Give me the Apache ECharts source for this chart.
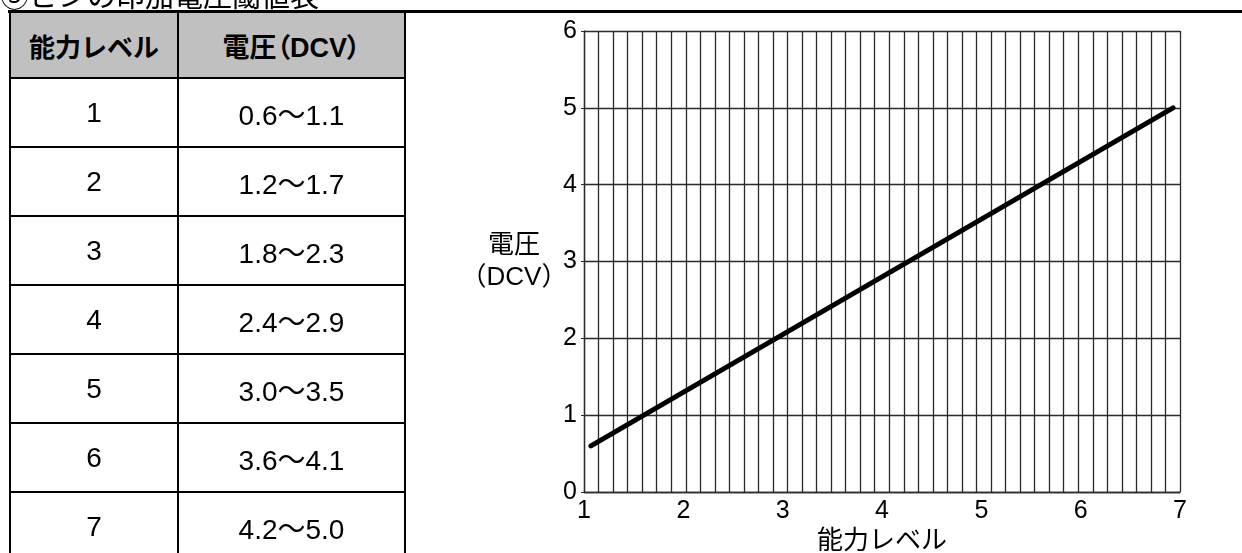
<!DOCTYPE html>
<html>
<head>
<meta charset="utf-8">
<script src="https://cdn.jsdelivr.net/npm/echarts@6/dist/echarts.min.js"></script>
<style>
  html, body { margin: 0; padding: 0; background: #fff; overflow: hidden; }
  #wrap { position: relative; width: 1242px; height: 553px; overflow: hidden; }
  #chart { position: absolute; left: 0; top: 0; width: 1242px; height: 553px; }
  .ln { position: absolute; background: #000; }
  .cell { position: absolute; display: flex; align-items: center; justify-content: center;
          font-family: "Liberation Sans", "Noto Sans CJK JP", sans-serif; color: #000; white-space: nowrap; }
  .hdr { background: #c0c0c0; font-weight: bold; font-size: 26px; }
  .hdr.palt { font-size: 27px; font-feature-settings: "palt" 1; }
  .body { font-size: 28px; padding-top: 1px; box-sizing: border-box; }
  #title { position: absolute; left: 0; top: -20px; font-size: 29px; line-height: 29px;
           font-family: "Noto Sans CJK JP", sans-serif; color: #000; white-space: nowrap; }
</style>
</head>
<body>
<div id="wrap">
  <div id="chart"></div>
  <div id="title"></div>
  <div id="table"></div>
</div>
<script>
// ---- data ----
const titleText = '③ピンの印加電圧閾値表';
const tableHeaders = ['能力レベル', '電圧（DCV）'];
const levels = ['1', '2', '3', '4', '5', '6', '7'];
const voltageRanges = ['0.6～1.1', '1.2～1.7', '1.8～2.3', '2.4～2.9', '3.0～3.5', '3.6～4.1', '4.2～5.0'];
const lineLevels = [1.07, 6.93];
const lineVoltages = [0.6, 5.0];
const xAxisRange = [1, 7];
const yAxisRange = [0, 6];
const fineGridCount = 41;
const xAxisTitle = '能力レベル';
const yAxisTitle = '電圧\n（DCV）';

// ---- table (HTML) ----
document.getElementById('title').textContent = titleText;
const tbl = document.getElementById('table');
function addLine(l, t, w, h) {
  const d = document.createElement('div');
  d.className = 'ln';
  d.style.left = l + 'px'; d.style.top = t + 'px'; d.style.width = w + 'px'; d.style.height = h + 'px';
  tbl.appendChild(d);
}
function addCell(l, t, w, h, text, cls) {
  const d = document.createElement('div');
  d.className = 'cell ' + cls;
  d.style.left = l + 'px'; d.style.top = t + 'px'; d.style.width = w + 'px'; d.style.height = h + 'px';
  d.textContent = text;
  tbl.appendChild(d);
}
const colX = [9, 177, 404];
const headerTop = 13, headerBottom = 77, rowH = 69;
addCell(colX[0] + 2, headerTop, colX[1] - colX[0] - 2, headerBottom - headerTop, tableHeaders[0], 'hdr');
addCell(colX[1] + 2, headerTop, colX[2] - colX[1] - 2, headerBottom - headerTop, tableHeaders[1], 'hdr palt');
levels.forEach((lv, i) => {
  const top = headerBottom + 2 + i * rowH;
  addCell(colX[0] + 2, top, colX[1] - colX[0] - 2, rowH - 2, lv, 'body');
  addCell(colX[1] + 2, top, colX[2] - colX[1] - 2, rowH - 2, voltageRanges[i], 'body');
});
addLine(8, 10, 1234, 3);
colX.forEach(x => addLine(x, 10, 2, 560));
for (let i = 0; i < levels.length; i++) addLine(colX[0], headerBottom + i * rowH, colX[2] - colX[0] + 2, 2);

// ---- chart ----
const chart = echarts.init(document.getElementById('chart'));
const gridColor = '#2a2a2a';
const font = '"Liberation Sans", "Noto Sans CJK JP", sans-serif';
chart.setOption({
  animation: false,
  grid: { left: 584, right: 62, top: 31, bottom: 61, containLabel: false, outerBoundsMode: 'none' },
  xAxis: [
    {
      type: 'value', min: xAxisRange[0], max: xAxisRange[1], interval: 1, position: 'bottom',
      name: xAxisTitle, nameLocation: 'middle', nameGap: 50, nameMoveOverlap: false,
      nameTextStyle: { fontSize: 26, color: '#000', fontFamily: font, verticalAlign: 'middle' },
      axisLine: { show: true, lineStyle: { color: gridColor, width: 1.3 } },
      axisTick: { show: false },
      axisLabel: { fontSize: 25, color: '#000', margin: 7, fontFamily: font },
      splitLine: { show: false }
    },
    {
      type: 'value', min: 0, max: fineGridCount, interval: 1, position: 'top',
      axisLine: { show: false }, axisTick: { show: false }, axisLabel: { show: false },
      splitLine: { show: true, lineStyle: { color: gridColor, width: 1.3 } }
    }
  ],
  yAxis: {
    type: 'value', min: yAxisRange[0], max: yAxisRange[1], interval: 1,
    name: yAxisTitle, nameLocation: 'middle', nameGap: 70, nameRotate: 0, nameMoveOverlap: false,
    nameTextStyle: { fontSize: 26, color: '#000', fontFamily: font, align: 'center', verticalAlign: 'middle',
                     lineHeight: 32, padding: [13, 0, 0, 0] },
    axisLine: { show: true, lineStyle: { color: gridColor, width: 1.3 } },
    axisTick: { show: true, length: 3, lineStyle: { color: gridColor } },
    axisLabel: { fontSize: 25, color: '#000', margin: 7, fontFamily: font, padding: [3, 0, 0, 0] },
    splitLine: { show: true, lineStyle: { color: gridColor, width: 1.3 } }
  },
  series: [{
    type: 'line', xAxisIndex: 0, yAxisIndex: 0, symbol: 'none', clip: false,
    data: lineLevels.map((x, i) => [x, lineVoltages[i]]),
    lineStyle: { color: '#000', width: 5, cap: 'round' }
  }]
});
</script>
</body>
</html>
